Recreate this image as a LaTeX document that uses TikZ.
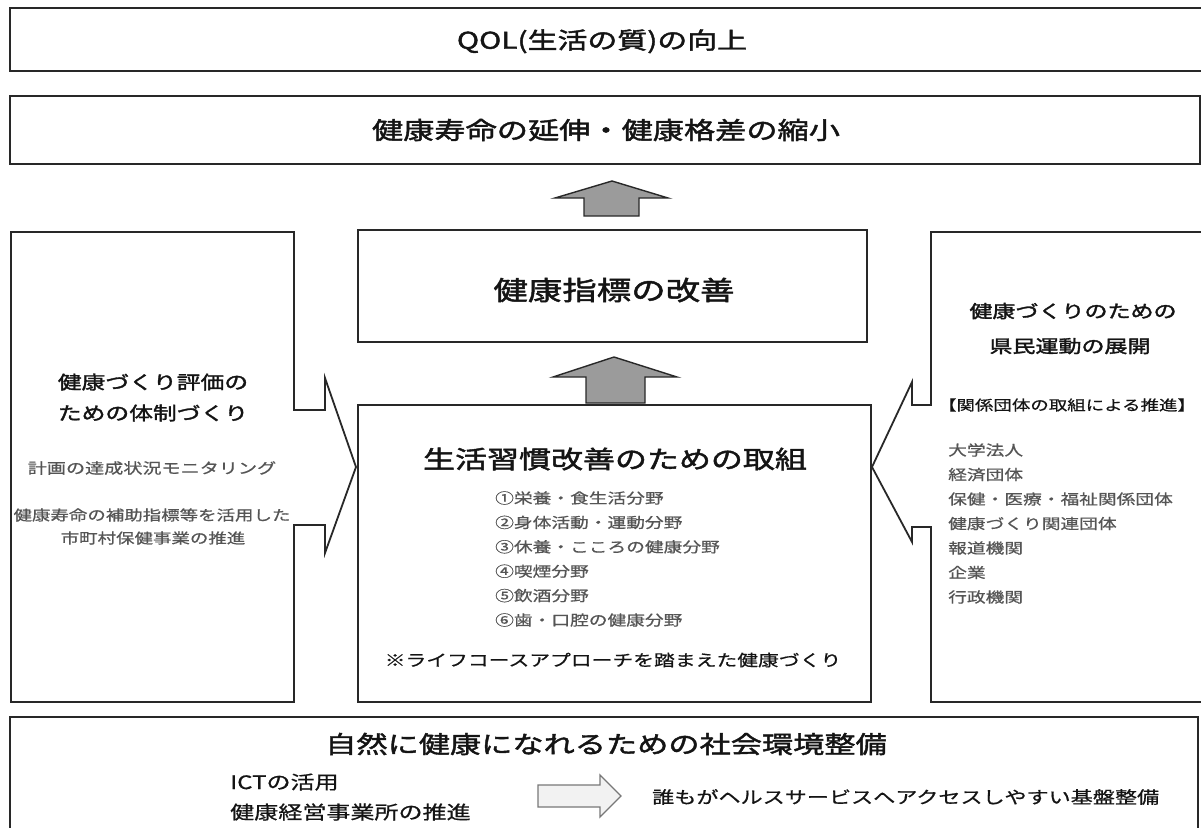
\documentclass[tikz,border=0pt]{standalone}
\usepackage{fontspec}
\setmainfont[FakeStretch=1.3,FakeBold=0.7]{Noto Sans CJK JP}
\newfontfamily\hd[FakeStretch=1.3,FakeBold=1.8]{Noto Sans CJK JP}
\definecolor{lc}{RGB}{40,40,40}
\definecolor{ink}{RGB}{20,20,20}
\definecolor{tg}{RGB}{85,85,85}
\definecolor{af}{RGB}{155,155,155}
\definecolor{ho}{RGB}{120,120,120}
\definecolor{hf}{RGB}{242,242,242}
\newcommand{\fs}[1]{\fontsize{#1}{#1}\selectfont}
\begin{document}
\begin{tikzpicture}[x=1pt,y=-1pt,line join=miter,
  box/.style={draw=lc,line width=1.8pt,fill=white},
  garrow/.style={draw=lc,line width=1.4pt,fill=af},
  harrow/.style={draw=ho,line width=1.3pt,fill=hf},
  tx/.style={inner sep=0pt,text=ink,anchor=base,font=\hd},
  tl/.style={inner sep=0pt,text=tg,anchor=base west},
  tc/.style={inner sep=0pt,text=tg,anchor=base}]
\useasboundingbox (0,0) rectangle (1201,827);
% boxes
\draw[box] (1215,8) -- (10,8) -- (10,71) -- (1215,71);
\draw[box] (10,96) rectangle (1200,164);
\draw[garrow] (584,216) -- (584,198) -- (555,198) -- (612,181) -- (668,198) -- (639,198) -- (639,216) -- cycle;
\draw[box] (358,230) rectangle (867,342);
\draw[garrow] (586,403) -- (586,377) -- (553,377) -- (614,357) -- (677,377) -- (645,377) -- (645,403) -- cycle;
\draw[box] (11,232) -- (294,232) -- (294,410) -- (325,410) -- (325,378) -- (356,467) -- (325,553) -- (325,525) -- (294,525) -- (294,702) -- (11,702) -- cycle;
\draw[box] (358,405) rectangle (871,702);
\draw[box] (1215,232) -- (931,232) -- (931,405) -- (912,405) -- (912,382) -- (872,467) -- (912,542) -- (912,527) -- (931,527) -- (931,702) -- (1215,702);
\draw[box] (10,840) -- (10,717) -- (1198,717) -- (1198,840);
\draw[harrow] (538,785) -- (600,785) -- (600,775) -- (621,796) -- (600,817) -- (600,807) -- (538,807) -- cycle;
% top texts
\node[tx] (qol) at (602,{40+0.38*23}) {\fs{23}QOL(生活の質)の向上};
\node[tx] (goal) at (606,{130+0.38*24}) {\fs{24}健康寿命の延伸・健康格差の縮小};
\node[tx] (ind) at (614,{290+0.38*26.5}) {\fs{26.5}健康指標の改善};
% left
\node[tx] (lh1) at (153,{382+0.38*18.3}) {\fs{18.3}健康づくり評価の};
\node[tx] (lh2) at (153,{413+0.38*18.3}) {\fs{18.3}ための体制づくり};
\node[tc] (lt1) at (152,{468+0.38*14.7}) {\fs{14.7}計画の達成状況モニタリング};
\node[tc] (lt2) at (152,{515+0.38*14.2}) {\fs{14.2}健康寿命の補助指標等を活用した};
\node[tc] (lt3) at (153,{538+0.38*14.2}) {\fs{14.2}市町村保健事業の推進};
% center
\node[tx] (mh) at (615,{459+0.38*24.6}) {\fs{24.6}生活習慣改善のための取組};
\foreach \t [count=\i] in {①栄養・食生活分野,②身体活動・運動分野,③休養・こころの健康分野,④喫煙分野,⑤飲酒分野,⑥歯・口腔の健康分野}
  \node[tl] (m\i) at (495,{498+24.4*(\i-1)+0.38*14.4}) {\fs{14.4}\t};
\node[tx,font=\normalfont] (mn) at (613,{660+0.38*16}) {\fs{16}※ライフコースアプローチを踏まえた健康づくり};
% right
\node[tx] (rh1) at (1073,{311+0.38*17.7}) {\fs{17.7}健康づくりのための};
\node[tx] (rh2) at (1070,{346+0.38*17.7}) {\fs{17.7}県民運動の展開};
\node[tx,font=\normalfont] (rb) at (1067,{405+0.38*14.2}) {\fs{14.2}【関係団体の取組による推進】};
\foreach \t [count=\i] in {大学法人,経済団体,保健・医療・福祉関係団体,健康づくり関連団体,報道機関,企業,行政機関}
  \node[tl] (r\i) at (948,{450+24.5*(\i-1)+0.38*14.4}) {\fs{14.4}\t};
% bottom
\node[tx] (bt) at (606,{744+0.38*24}) {\fs{24}自然に健康になれるための社会環境整備};
\node[tx,font=\normalfont,anchor=base west] (b1) at (230,{782+0.38*18.5}) {\fs{18.5}ICTの活用};
\node[tx,font=\normalfont,anchor=base west] (b2) at (230,{812+0.38*18.5}) {\fs{18.5}健康経営事業所の推進};
\node[tx,font=\normalfont,anchor=base west] (b3) at (652,{797+0.38*17}) {\fs{17}誰もがヘルスサービスへアクセスしやすい基盤整備};
\end{tikzpicture}
\end{document}
